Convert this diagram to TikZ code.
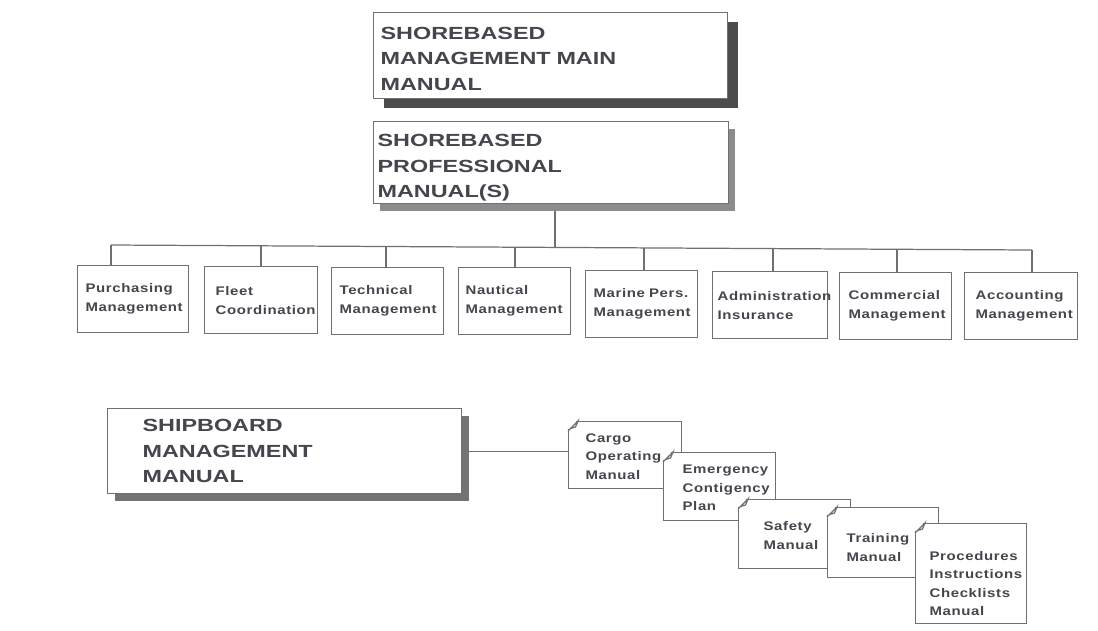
\documentclass[tikz,border=0pt]{standalone}
\usepackage{fontspec}
\usetikzlibrary{shadows}

\newfontfamily\headfont{Liberation Sans}[FakeStretch=1.33]
\newfontfamily\labfont{Liberation Sans}[FakeStretch=1.2,LetterSpace=5]

\definecolor{ink}{HTML}{45454D}
\definecolor{rule}{HTML}{707070}

\tikzset{
  link/.style={draw=rule, line width=0.7pt},
  bigbox/.style={draw=rule, fill=white, line width=0.7pt, anchor=north west, align=left,
    text=ink, font=\headfont\bfseries\fontsize{10pt}{14.5pt}\selectfont},
  unitbox/.style={draw=rule, fill=white, line width=0.7pt, anchor=north west, align=left,
    text=ink, minimum height=1.34cm, font=\labfont\bfseries\fontsize{7.1pt}{10.8pt}\selectfont},
  docbox/.style={draw=rule, fill=white, line width=0.7pt, anchor=north west, align=left,
    text=ink, font=\labfont\bfseries\fontsize{7.1pt}{10.5pt}\selectfont}
}

% folded corner of a manual sheet
\newcommand\dogear[1]{%
  \fill[white] ([xshift=-1pt,yshift=-0.2cm]#1.north west) -- ([xshift=-1pt,yshift=1pt]#1.north west)
    -- ([xshift=0.2cm,yshift=1pt]#1.north west) -- cycle;
  \draw[link] ([yshift=-0.2cm]#1.north west) -- ([xshift=0.2cm]#1.north west)
    -- ([xshift=0.15cm,yshift=-0.12cm]#1.north west) -- ([xshift=0.05cm,yshift=-0.15cm]#1.north west);
}

\begin{document}
\begin{tikzpicture}[x=0.02cm,y=-0.02cm]
  \useasboundingbox (0,0) rectangle (1098,630);

  % shorebased manuals
  \node (main) [bigbox, inner xsep=0.14cm, text width=6.8cm, minimum height=1.72cm, text height=10.7pt,
    drop shadow={shadow xshift=0.2cm, shadow yshift=-0.18cm, fill=black!70, opacity=1}]
    at (373,12) {SHOREBASED\\MANAGEMENT MAIN\\MANUAL};
  \node (prof) [bigbox, inner xsep=0.08cm, inner ysep=1pt, text width=6.94cm, minimum height=1.64cm,
    text height=13pt,
    drop shadow={shadow xshift=0.12cm, shadow yshift=-0.14cm, fill=black!45, opacity=1}]
    at (373,121) {SHOREBASED\\PROFESSIONAL\\MANUAL(S)};

  \coordinate (hub) at (555,247.4);
  \coordinate (profout) at ([yshift=-0.14cm]prof.south);
  \draw[link] (hub |- profout) -- (hub);

  % departments
  \foreach \n/\x/\y/\w/\pd/\tx/\t in {
      pur/77/265/111/8/111/{Purchasing\\Management},
      flt/204/266/113/11/261/{Fleet\\Coordination},
      tec/331/267/112/8/386/{Technical\\Management},
      nau/458/267/112/7/515/{Nautical\\Management},
      mar/585/270/112/8/644/{Marine Pers.\\Management},
      adm/712/271/115/5/773/{Administration\\Insurance},
      com/839/272/112/9/897/{Commercial\\Management},
      acc/964/272/113/11/1032/{Accounting\\Management}} {
    \pgfmathsetmacro\tw{(\w-2*\pd)*0.02}
    \pgfmathsetmacro\ps{\pd*0.02}
    \pgfmathsetmacro\ty{245+5*(\tx-111)/921}
    \node (\n) [unitbox, inner xsep=\ps cm, text width=\tw cm] at (\x,\y) {\t};
    \coordinate (t\n) at (\tx,\ty);
    \draw[link] (t\n) -- (t\n |- \n.north);
  }
  \draw[link] (tpur) -- (tacc);

  % shipboard manual and its manuals
  \node (ship) [bigbox, inner xsep=0.7cm, text width=5.68cm, minimum height=1.7cm,
    drop shadow={shadow xshift=0.14cm, shadow yshift=-0.14cm, fill=black!55, opacity=1}]
    at (107,408) {SHIPBOARD\\MANAGEMENT\\MANUAL};

  \foreach \n/\x/\y/\w/\h/\pd/\th/\t in {
      cargo/568/421/113/67/17/6.3/{Cargo\\Operating\\Manual},
      emer/663/452/112/68/19/6.3/{Emergency\\Contigency\\Plan},
      safe/738/499/112/69/25/6.9/{Safety\\Manual},
      train/827/507/111/70/19/10.9/{Training\\Manual},
      proc/915/523/111/100/14/16.5/{Procedures\\Instructions\\Checklists\\Manual}} {
    \pgfmathsetmacro\tw{(\w-2*\pd)*0.02}
    \pgfmathsetmacro\ps{\pd*0.02}
    \pgfmathsetmacro\mh{\h*0.02}
    \node (\n) [docbox, inner xsep=\ps cm, text width=\tw cm, minimum height=\mh cm,
      text height=\th pt] at (\x,\y) {\t};
    \dogear{\n}
  }

  \draw[link] ([xshift=0.14cm]ship.east) -- (ship.east -| cargo.west);
\end{tikzpicture}
\end{document}
